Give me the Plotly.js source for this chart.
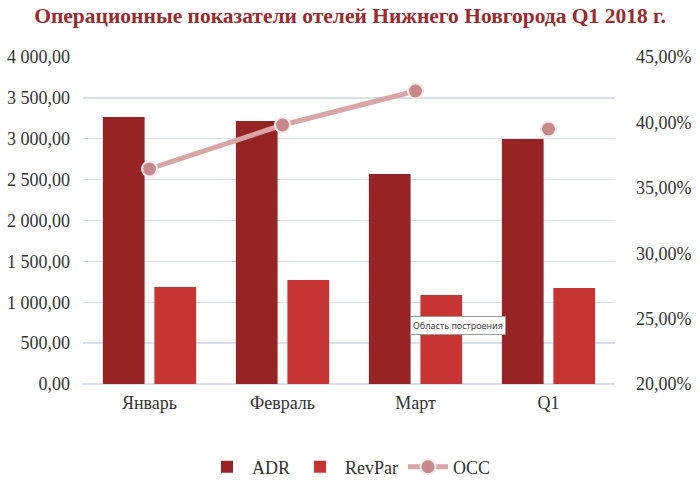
<!DOCTYPE html>
<html><head><meta charset="utf-8">
<script src="https://cdn.plot.ly/plotly-3.0.1.min.js"></script>
<style>html,body{margin:0;padding:0;background:#fff}#c{width:700px;height:484px}</style>
</head><body><div id="c"></div>
<script>
const categories = ['Январь', 'Февраль', 'Март', 'Q1'];
const adr = [3266, 3217, 2569, 2997];
const revpar = [1187, 1272, 1089, 1174];
const occ = [0.3644, 0.398, 0.424, 0.395];
const leftTicks = [0, 500, 1000, 1500, 2000, 2500, 3000, 3500, 4000];
const rightTicks = [0.20, 0.25, 0.30, 0.35, 0.40, 0.45];

const serif = 'Liberation Serif';
const traces = [
  {type:'bar', name:'ADR', x:categories, y:adr, marker:{color:'#962424'}, hoverinfo:'skip'},
  {type:'bar', name:'RevPar', x:categories, y:revpar, marker:{color:'#c73434'}, hoverinfo:'skip'},
  {type:'scatter', mode:'lines+markers', name:'OCC', x:categories.slice(0,3), y:occ.slice(0,3), yaxis:'y2',
   line:{color:'#d8a6a7', width:5}, marker:{size:15, color:'#c8898c', line:{color:'#f6eaea', width:2}}, hoverinfo:'skip'},
  {type:'scatter', mode:'markers', name:'OCC', showlegend:false, x:categories.slice(3), y:occ.slice(3), yaxis:'y2',
   marker:{size:15, color:'#c8898c', line:{color:'#f6eaea', width:2}}, hoverinfo:'skip'}
];
const layout = {
  width:700, height:484,
  margin:{l:83, r:85, t:57, b:100, autoexpand:false},
  separators:', ',
  paper_bgcolor:'#fff', plot_bgcolor:'#fff',
  title:{text:'<b>Операционные показатели отелей Нижнего Новгорода Q1 2018 г.</b>', font:{family:serif, size:21.5, color:'#9a2a2e'}, x:0.5, xanchor:'center', y:0.967, yanchor:'middle'},
  barmode:'group', bargap:0.225, bargroupgap:0.19,
  font:{family:serif, size:18, color:'#333'},
  xaxis:{type:'category', showgrid:false, zeroline:false, showline:false, ticks:'', ticklabelstandoff:6, tickfont:{family:serif, size:18, color:'#333'}},
  yaxis:{range:[0,4000], tickvals:leftTicks, tickformat:',.2f', showgrid:true, gridcolor:'#d8e1eb', gridwidth:1.3, zeroline:true, zerolinecolor:'#d8e1eb', zerolinewidth:1.3, showline:false, ticks:'', ticklabelstandoff:12, tickfont:{family:serif, size:18, color:'#333'}},
  yaxis2:{range:[0.20,0.45], tickvals:rightTicks, tickformat:'.2%', overlaying:'y', side:'right', showgrid:false, zeroline:false, showline:false, ticks:'', ticklabelstandoff:20, tickfont:{family:serif, size:18, color:'#333'}},
  legend:{orientation:'h', x:0.5, xanchor:'center', y:-0.254, yanchor:'middle', font:{family:serif, size:18, color:'#333'}, itemwidth:40, traceorder:'normal'},
  annotations:[{xref:'paper', yref:'paper', x:0.705, y:0.18, xanchor:'center', yanchor:'middle', text:'Область построения', showarrow:false,
    font:{family:'Noto Sans, DejaVu Sans, sans-serif', size:9, color:'#444'}, bgcolor:'#fff', bordercolor:'#999', borderwidth:1, borderpad:2}]
};
Plotly.newPlot('c', traces, layout, {displayModeBar:false, staticPlot:true});
</script></body></html>
